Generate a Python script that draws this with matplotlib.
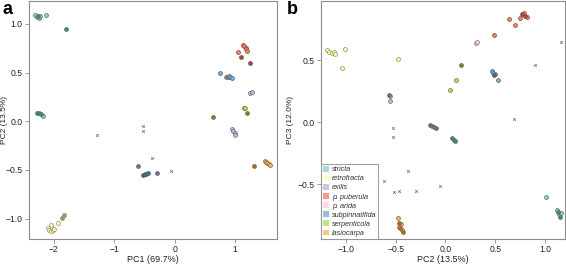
import matplotlib
matplotlib.use("Agg")
import matplotlib.pyplot as plt
from matplotlib.patches import Patch
import matplotlib.colors as mcolors
import numpy as np

plt.rcParams['font.family'] = ['Liberation Sans', 'DejaVu Sans']

species = ['stricta', 'retrofracta', 'exilis', 'p. puberula', 'p. arida',
           'subpinnatifida', 'serpenticola', 'lasiocarpa']
colors = ['#8DD3C7', '#FFFFB3', '#BEBADA', '#FB8072', '#FCCDE5',
          '#80B1D3', '#B3DE69', '#FDB462']

# panel a: PC1 vs PC2 (species index, dark flag)
a_x = [-2.31, -2.28, -2.26, -2.24, -2.22, -2.13, -1.79,
       -2.28, -2.25, -2.21, -2.17,
       -2.10, -2.08, -2.05, -2.02, -1.99, -2.04, -1.93, -1.87, -1.83,
       1.25, 1.27, 0.95, 0.97, 0.99, 1.00, -0.60, -0.30,
       1.12, 1.15, 1.17, 1.18, 1.19, 1.04, 1.09, 1.24,
       0.84,
       0.755, 0.88, 0.90, 0.92, 0.94, -0.53, -0.50, -0.48, -0.45,
       1.14, 1.16, 1.19, 0.64,
       1.49, 1.51, 1.53, 1.55, 1.57, 1.31]
a_y = [1.09, 1.07, 1.08, 1.06, 1.08, 1.09, 0.95,
       0.08, 0.08, 0.07, 0.05,
       -1.10, -1.12, -1.13, -1.12, -1.11, -1.07, -1.05, -0.99, -0.96,
       0.29, 0.30, -0.08, -0.10, -0.12, -0.14, -0.46, -0.53,
       0.78, 0.77, 0.75, 0.74, 0.72, 0.71, 0.66, 0.60,
       0.46,
       0.50, 0.46, 0.47, 0.45, 0.44, -0.55, -0.54, -0.54, -0.53,
       0.14, 0.14, 0.09, 0.04,
       -0.41, -0.42, -0.43, -0.44, -0.45, -0.46]
a_sp = [0, 0, 0, 0, 0, 0, 0,
        0, 0, 0, 0,
        1, 1, 1, 1, 1, 1, 1, 1, 1,
        2, 2, 2, 2, 2, 2, 2, 2,
        3, 3, 3, 3, 3, 3, 3, 3,
        4,
        5, 5, 5, 5, 5, 5, 5, 5, 5,
        6, 6, 6, 6,
        7, 7, 7, 7, 7, 7]
a_dark = [0, 0, 1, 0, 0, 0, 1,
          1, 1, 1, 0,
          0, 0, 0, 0, 0, 0, 0, 1, 1,
          0, 0, 0, 0, 0, 0, 1, 1,
          0, 0, 0, 0, 0, 0, 1, 1,
          1,
          0, 0, 0, 0, 0, 1, 1, 1, 1,
          0, 0, 1, 1,
          0, 0, 0, 0, 0, 1]
a_unk_x = [-0.53, -0.53, -1.28, -0.38, -0.07]
a_unk_y = [-0.05, -0.10, -0.14, -0.38, -0.51]

# panel b: PC2 vs PC3
b_x = [-1.19, -1.17, -1.14, -1.12, -1.11, -1.01, -1.04, -0.48,
       -0.57, -0.56, -0.56, -0.15, -0.13, -0.11, -0.09,
       0.05, 0.11, 0.16,
       0.31, 0.32,
       0.49, 0.64, 0.70, 0.75, 0.77, 0.79, 0.80, 0.82,
       0.47, 0.48, 0.49, 0.50, 0.53,
       0.07, 0.09, 0.10, 1.01, 1.12, 1.13, 1.14, 1.15, 1.16,
       -0.48, -0.47, -0.47, -0.46, -0.44, -0.43, -0.45]
b_y = [0.58, 0.57, 0.56, 0.57, 0.55, 0.59, 0.44, 0.51,
       0.22, 0.21, 0.17, -0.02, -0.03, -0.04, -0.05,
       0.26, 0.34, 0.46,
       0.64, 0.65,
       0.70, 0.83, 0.78, 0.84, 0.87, 0.88, 0.86, 0.85,
       0.41, 0.40, 0.38, 0.39, 0.34,
       -0.13, -0.14, -0.15, -0.60, -0.71, -0.72, -0.74, -0.76, -0.73,
       -0.77, -0.81, -0.84, -0.85, -0.87, -0.88, -0.82]
b_sp = [1, 1, 1, 1, 1, 1, 1, 1,
        2, 2, 2, 2, 2, 2, 2,
        6, 6, 6,
        4, 4,
        3, 3, 3, 3, 3, 3, 3, 3,
        5, 5, 5, 5, 5,
        0, 0, 0, 0, 0, 0, 0, 0, 0,
        7, 7, 7, 7, 7, 7, 7]
b_dark = [0, 0, 0, 0, 0, 0, 0, 0,
          1, 0, 0, 1, 1, 1, 1,
          0, 0, 1,
          0, 0,
          0, 0, 0, 0, 1, 0, 1, 0,
          0, 0, 1, 0, 0,
          1, 1, 1, 0, 0, 1, 0, 1, 0,
          0, 1, 0, 1, 0, 1, 0]
b_unk_x = [1.16, 0.90, 0.69, -0.53, -0.53, -0.38, -0.62, -0.52, -0.47, -0.30, -0.05]
b_unk_y = [0.65, 0.46, 0.03, -0.05, -0.12, -0.39, -0.47, -0.56, -0.55, -0.55, -0.51]

GRAY = '#8c8c8c'


def shade(c, f):
    r, g, b = mcolors.to_rgb(c)
    return (r * f, g * f, b * f)


def draw_points(ax, xs, ys, sp, dark, ux, uy):
    xs, ys, sp, dark = map(np.asarray, (xs, ys, sp, dark))
    for i, c in enumerate(colors):
        for d in (0, 1):
            m = (sp == i) & (dark == d)
            if not m.any():
                continue
            face = shade(c, 0.6) if d else c
            ax.scatter(xs[m], ys[m], s=8, facecolor=face,
                       edgecolor=shade(c, 0.55), linewidth=0.5, zorder=3)
    ax.scatter(ux, uy, marker='x', s=4, color='#666666', linewidth=0.5, zorder=3)


def style(ax):
    for sp in ax.spines.values():
        sp.set_color(GRAY)
        sp.set_linewidth(0.8)
    ax.tick_params(direction='out', length=3, width=0.6, color=GRAY,
                   labelsize=6.2, labelcolor='#222222', pad=1.5)


fig = plt.figure(figsize=(5.66, 2.64), dpi=100)
ax1 = fig.add_axes([0.0512, 0.0947, 0.4382, 0.903])
ax2 = fig.add_axes([0.5671, 0.0947, 0.4309, 0.903])

draw_points(ax1, a_x, a_y, a_sp, a_dark, a_unk_x, a_unk_y)
ax1.set_xlim(-2.41, 1.69)
ax1.set_ylim(-1.21, 1.24)
ax1.set_xticks([-2, -1, 0, 1])
ax1.set_xticklabels(['\u22122', '\u22121', '0', '1'])
ax1.set_yticks([-1.0, -0.5, 0.0, 0.5, 1.0])
ax1.set_yticklabels(['\u22121.0', '\u22120.5', '0.0', '0.5', '1.0'])
ax1.set_xlabel('PC1 (69.7%)', fontsize=6.5, color='#222222', labelpad=0.5)
ax1.set_ylabel('PC2 (13.5%)', fontsize=6.0, color='#222222', va='center')
ax1.yaxis.set_label_coords(-0.099, 0.5)
style(ax1)

draw_points(ax2, b_x, b_y, b_sp, b_dark, b_unk_x, b_unk_y)
ax2.set_xlim(-1.25, 1.20)
ax2.set_ylim(-0.94, 0.98)
ax2.set_xticks([-1.0, -0.5, 0.0, 0.5, 1.0])
ax2.set_xticklabels(['\u22121.0', '\u22120.5', '0.0', '0.5', '1.0'])
ax2.set_yticks([-0.5, 0.0, 0.5])
ax2.set_yticklabels(['\u22120.5', '0.0', '0.5'])
ax2.set_xlabel('PC2 (13.5%)', fontsize=6.5, color='#222222', labelpad=0.5)
ax2.set_ylabel('PC3 (12.0%)', fontsize=6.0, color='#222222', va='center')
ax2.yaxis.set_label_coords(-0.127, 0.5)
style(ax2)

handles = [Patch(facecolor=c, edgecolor='none', alpha=0.8) for c in colors]
leg = ax2.legend(handles, species, loc='lower left', bbox_to_anchor=(0, 0),
                 borderaxespad=0, prop={'style': 'italic', 'size': 5.2},
                 handlelength=0.8, handleheight=0.8, handletextpad=0.4,
                 labelspacing=0.25, borderpad=0.3, fancybox=False, framealpha=1)
leg.get_frame().set_edgecolor(GRAY)
leg.get_frame().set_linewidth(0.6)
for t in leg.get_texts():
    t.set_color('#333333')

fig.text(0.004, 0.995, 'a', fontsize=13, fontweight='bold', va='top', ha='left')
fig.text(0.507, 0.995, 'b', fontsize=13, fontweight='bold', va='top', ha='left')

fig.savefig('out.png', dpi=100)
